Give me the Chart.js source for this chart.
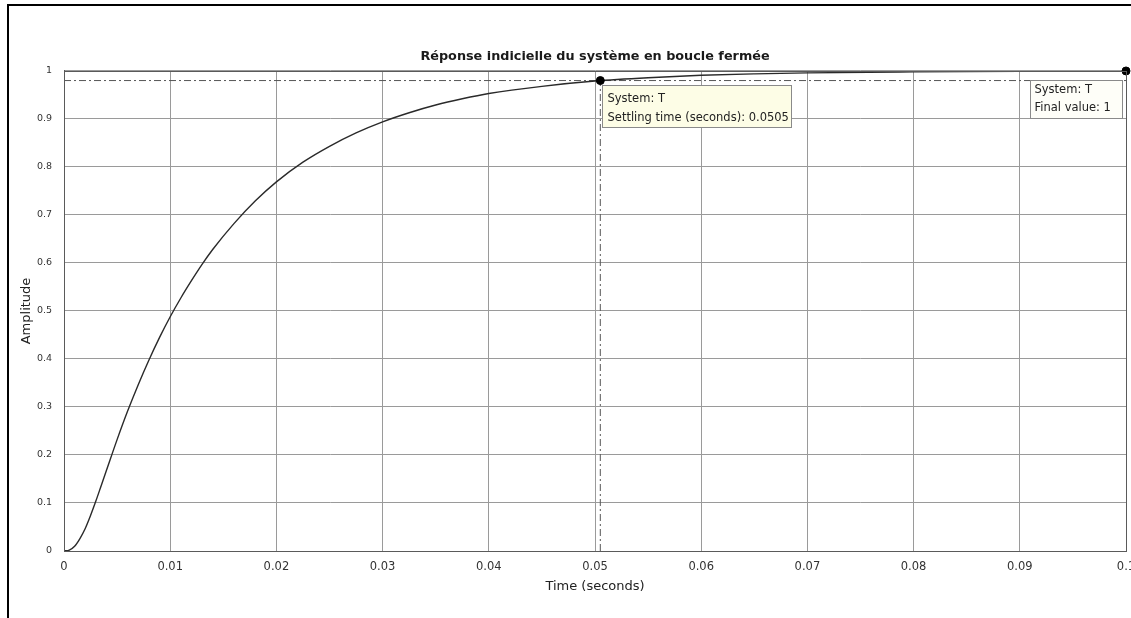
<!DOCTYPE html>
<html><head><meta charset="utf-8">
<script src="https://cdn.jsdelivr.net/npm/chart.js@4.4.1/dist/chart.umd.min.js"></script>
<style>
html,body{margin:0;padding:0;background:#fff;}
#wrap{position:relative;width:1131px;height:618px;overflow:hidden;}
#frame{position:absolute;left:7px;top:4px;right:-4px;bottom:-4px;border-left:2px solid #000;border-top:2px solid #000;pointer-events:none;}
canvas{position:absolute;left:0;top:0;}
</style></head><body>
<div id="wrap"><canvas id="c" width="1131" height="618"></canvas><div id="frame"></div></div>
<script>
// ---- data ----
const timeSec = [0, 0.0005, 0.001, 0.0015, 0.002, 0.0025, 0.003, 0.0035, 0.004, 0.005, 0.006, 0.007, 0.008, 0.009, 0.010,
  0.011, 0.012, 0.013, 0.014, 0.016, 0.018, 0.020, 0.0225, 0.025, 0.0275, 0.030, 0.0325, 0.035, 0.0375, 0.040, 0.045, 0.050,
  0.055, 0.060, 0.065, 0.070, 0.080, 0.090, 0.100];
const amplitude = [0, 0.002, 0.010, 0.026, 0.047, 0.074, 0.104, 0.136, 0.168, 0.232, 0.292, 0.347, 0.398, 0.445, 0.488,
  0.527, 0.563, 0.597, 0.628, 0.682, 0.729, 0.769, 0.810, 0.843, 0.871, 0.894, 0.913, 0.929, 0.942, 0.953, 0.968, 0.979,
  0.986, 0.991, 0.994, 0.996, 0.998, 0.9993, 0.9997];
const settlingTime = 0.0505;
const settlingLevel = 0.98;
const finalTime = 0.1;
const finalValue = 1;
const xTicks = [0, 0.01, 0.02, 0.03, 0.04, 0.05, 0.06, 0.07, 0.08, 0.09, 0.1];
const xTickLabels = ['0', '0.01', '0.02', '0.03', '0.04', '0.05', '0.06', '0.07', '0.08', '0.09', '0.1'];
const yTicks = [0, 0.1, 0.2, 0.3, 0.4, 0.5, 0.6, 0.7, 0.8, 0.9, 1];
const yTickLabels = ['0', '0.1', '0.2', '0.3', '0.4', '0.5', '0.6', '0.7', '0.8', '0.9', '1'];
const titleText = 'Réponse indicielle du système en boucle fermée';
const xTitleText = 'Time (seconds)';
const yTitleText = 'Amplitude';
const tipSettling = ['System: T', 'Settling time (seconds): 0.0505'];
const tipFinal = ['System: T', 'Final value: 1'];

const FONT = '"DejaVu Sans", "Liberation Sans", Arial, sans-serif';

const stepPoints = timeSec.map((t, i) => ({x: t, y: amplitude[i]}));

const annotPlugin = {
  id: 'matlabAnnot',
  afterDatasetsDraw(chart) {
    const ctx = chart.ctx, xs = chart.scales.x, ys = chart.scales.y, a = chart.chartArea;
    ctx.save();
    // axes box
    ctx.strokeStyle = '#5a5a5a';
    ctx.lineWidth = 1;
    ctx.strokeRect(Math.round(a.left) + 0.5, Math.round(a.top) + 0.5, Math.round(a.right - a.left), Math.round(a.bottom - a.top));
    ctx.font = '11.5px ' + FONT;
    ctx.textBaseline = 'middle';
    ctx.textAlign = 'left';
    // settling-time data tip
    const p1x = xs.getPixelForValue(settlingTime), p1y = ys.getPixelForValue(settlingLevel);
    let bx = Math.round(p1x) + 2.5, by = Math.round(p1y) + 4.5, bw = 189, bh = 42;
    ctx.fillStyle = '#fdfde6';
    ctx.fillRect(bx, by, bw, bh);
    ctx.strokeStyle = '#8a8a8a';
    ctx.strokeRect(bx, by, bw, bh);
    ctx.fillStyle = '#222';
    ctx.fillText(tipSettling[0], bx + 5, by + 14);
    ctx.fillText(tipSettling[1], bx + 5, by + 33);
    // final-value data tip
    const p2x = xs.getPixelForValue(finalTime), p2y = ys.getPixelForValue(finalValue);
    bw = 92; bh = 38;
    bx = Math.round(p2x) - 3.5 - bw; by = Math.round(p2y) + 9.5;
    ctx.fillStyle = '#fefef8';
    ctx.fillRect(bx, by, bw, bh);
    ctx.strokeStyle = '#8a8a8a';
    ctx.strokeRect(bx, by, bw, bh);
    ctx.fillStyle = '#222';
    ctx.fillText(tipFinal[0], bx + 4, by + 10);
    ctx.fillText(tipFinal[1], bx + 4, by + 28);
    ctx.restore();
  }
};

new Chart(document.getElementById('c'), {
  type: 'line',
  data: {
    datasets: [
      { data: [{x: settlingTime, y: settlingLevel}, {x: finalTime, y: finalValue}], showLine: false,
        pointRadius: 4, pointBackgroundColor: '#000', pointBorderColor: '#000', clip: false },
      { data: stepPoints, borderColor: '#2a2a2a', borderWidth: 1.4, pointRadius: 0, cubicInterpolationMode: 'monotone', fill: false },
      { data: [{x: 0, y: settlingLevel}, {x: finalTime, y: settlingLevel}], borderColor: '#555', borderWidth: 1,
        borderDash: [7, 3, 2, 3], pointRadius: 0 },
      { data: [{x: settlingTime, y: 0}, {x: settlingTime, y: settlingLevel}], borderColor: '#555', borderWidth: 1,
        borderDash: [7, 3, 2, 3], pointRadius: 0 }
    ]
  },
  options: {
    responsive: false,
    devicePixelRatio: 1,
    animation: false,
    layout: { padding: { left: 0, right: 5, top: 0, bottom: 0 } },
    plugins: {
      legend: { display: false },
      tooltip: { enabled: false },
      title: { display: true, fullSize: false, text: titleText, color: '#1a1a1a',
        font: { family: FONT, size: 12.8, weight: 'bold' }, padding: { top: 49, bottom: 6.6 } }
    },
    scales: {
      x: {
        type: 'linear', min: 0, max: 0.1,
        afterBuildTicks: s => { s.ticks = xTicks.map(v => ({value: v})); },
        afterFit: s => { s.height = 67; s.paddingLeft = 0; s.paddingRight = 0; },
        ticks: { callback: (v, i) => xTickLabels[i], color: '#333', font: { family: FONT, size: 11.5 }, padding: 9, maxRotation: 0 },
        grid: { color: '#9a9a9a', lineWidth: 1, drawTicks: false },
        border: { display: true, color: '#5a5a5a' },
        title: { display: true, text: xTitleText, color: '#222', font: { family: FONT, size: 13 }, padding: { top: 0, bottom: 24 } }
      },
      y: {
        type: 'linear', min: 0, max: 1,
        afterBuildTicks: s => { s.ticks = yTicks.map(v => ({value: v})); },
        afterFit: s => { s.width = 64; s.paddingTop = 0; s.paddingBottom = 0; },
        ticks: { callback: (v, i) => yTickLabels[i], color: '#333', font: { family: FONT, size: 9.5 }, padding: 12 },
        grid: { color: '#9a9a9a', lineWidth: 1, drawTicks: false },
        border: { display: true, color: '#5a5a5a' },
        title: { display: true, text: yTitleText, color: '#222', font: { family: FONT, size: 13 }, padding: { top: 19, bottom: 0 } }
      }
    }
  },
  plugins: [annotPlugin]
});
</script>
</body></html>
